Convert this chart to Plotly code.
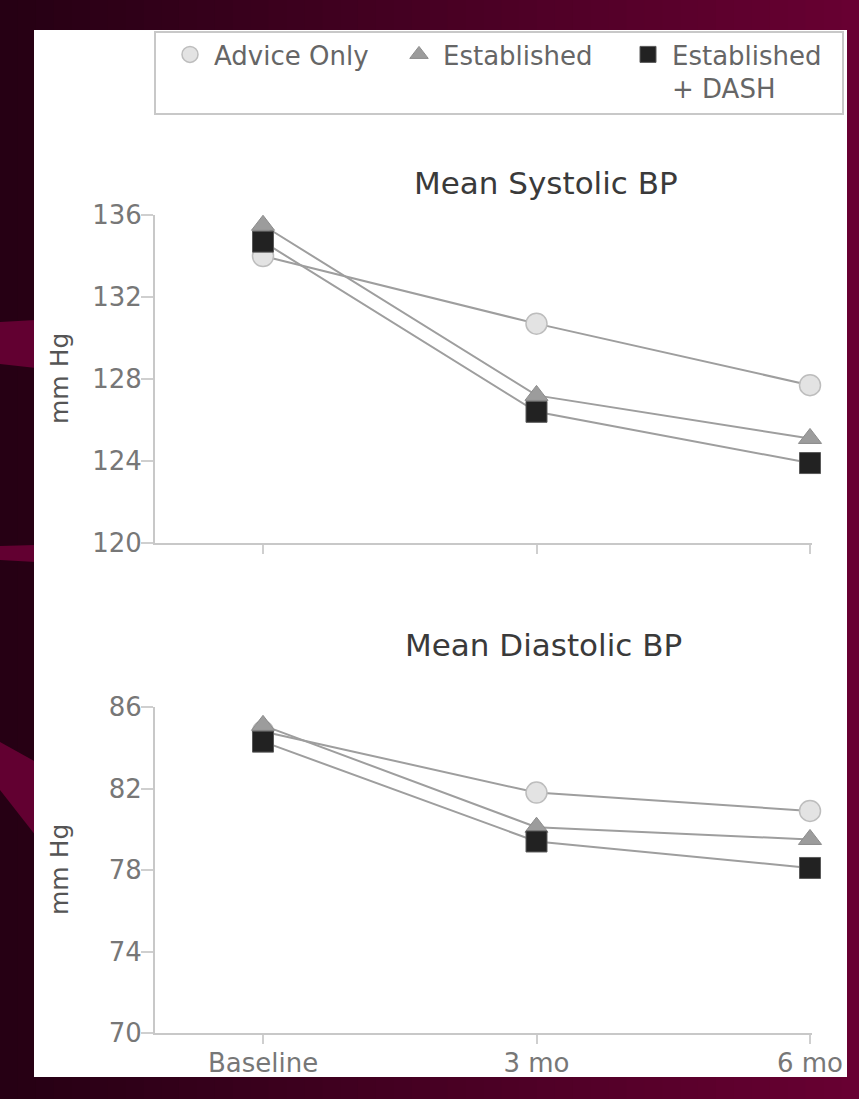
import plotly.graph_objects as go

W, H = 859, 1099

timepoints = ["Baseline", "3 mo", "6 mo"]
groups = ["Advice Only", "Established", "Established<br>+ DASH"]

systolic_advice = [134.0, 130.7, 127.7]
systolic_established = [135.5, 127.2, 125.1]
systolic_dash = [134.7, 126.4, 123.9]

diastolic_advice = [84.8, 81.8, 80.9]
diastolic_established = [85.1, 80.1, 79.5]
diastolic_dash = [84.3, 79.4, 78.1]

systolic_ticks = [120, 124, 128, 132, 136]
diastolic_ticks = [70, 74, 78, 82, 86]

styles = [
    dict(symbol="circle", size=21, color="#e3e3e3", line=dict(color="#bdbdbd", width=1.5)),
    dict(symbol="triangle-up", size=20, color="#9c9c9c", line=dict(color="#8c8c8c", width=1)),
    dict(symbol="square", size=21, color="#222222", line=dict(color="#5a5a5a", width=1)),
]

def px(x):
    return x / W

def py(y):
    return 1 - y / H

fig = go.Figure()

xs = list(range(len(timepoints)))
panels = [
    ("x", "y", [systolic_advice, systolic_established, systolic_dash]),
    ("x2", "y2", [diastolic_advice, diastolic_established, diastolic_dash]),
]
for pi, (xa, ya, series) in enumerate(panels):
    for vals in series:
        fig.add_trace(go.Scatter(x=xs, y=vals, mode="lines", xaxis=xa, yaxis=ya,
                                 line=dict(color="#9e9e9e", width=2), showlegend=False,
                                 hoverinfo="skip", cliponaxis=False))
    for gi, vals in enumerate(series):
        fig.add_trace(go.Scatter(x=xs, y=vals, mode="markers", xaxis=xa, yaxis=ya,
                                 name=groups[gi], marker=styles[gi], showlegend=(pi == 0),
                                 cliponaxis=False))

# decorative maroon gradient background (slide template)
shapes = []
n = 48
c0, c1 = (38, 0, 20), (104, 0, 50)
for i in range(n):
    t = i / (n - 1)
    col = "rgb(%d,%d,%d)" % tuple(int(c0[k] + (c1[k] - c0[k]) * t) for k in range(3))
    shapes.append(dict(type="rect", xref="paper", yref="paper", x0=i / n, x1=(i + 1) / n + 0.002,
                       y0=0, y1=1, fillcolor=col, line=dict(width=0), layer="below"))
for (ya, yb, yc, yd) in [(322, 364, 368, 320), (546, 560, 562, 545), (742, 790, 836, 762)]:
    path = "M 0 %f L %f %f L %f %f L 0 %f Z" % (py(ya), px(36), py(yd), px(36), py(yc), py(yb))
    shapes.append(dict(type="path", xref="paper", yref="paper", path=path,
                       fillcolor="#620031", line=dict(width=0), layer="below"))
shapes.append(dict(type="rect", xref="paper", yref="paper", x0=px(34), x1=px(847),
                   y0=py(1077), y1=py(30), fillcolor="white", line=dict(width=0), layer="below"))
shapes.append(dict(type="rect", xref="paper", yref="paper", x0=px(155), x1=px(843),
                   y0=py(114), y1=py(32), fillcolor="rgba(0,0,0,0)",
                   line=dict(color="#c8c8c8", width=2), layer="below"))

xdom = [px(155), px(812)]
xrange = [(155 - 263) / 273.5, (812 - 263) / 273.5]
font_family = "DejaVu Sans, Liberation Sans, Arial, sans-serif"
axis_common = dict(showgrid=False, zeroline=False, showline=True, linecolor="#c8c8c8", linewidth=2,
                   ticks="outside", tickcolor="#cfcfcf", tickwidth=1.5,
                   tickfont=dict(size=26, color="#777777", family=font_family))

fig.update_layout(
    width=W, height=H, margin=dict(l=0, r=0, t=0, b=0, autoexpand=False),
    paper_bgcolor="#4a0028", plot_bgcolor="rgba(0,0,0,0)",
    shapes=shapes,
    xaxis=dict(domain=xdom, range=xrange, anchor="y", tickvals=xs, ticktext=timepoints,
               showticklabels=False, ticklen=9, **axis_common),
    yaxis=dict(domain=[py(543), py(215)], range=[120, 136], anchor="x", tickvals=systolic_ticks,
               ticklen=12, ticklabelstandoff=-6, **axis_common),
    xaxis2=dict(domain=xdom, range=xrange, anchor="y2", tickvals=xs, ticktext=timepoints,
                ticklen=9, ticklabelstandoff=-3, **axis_common),
    yaxis2=dict(domain=[py(1033), py(707)], range=[70, 86], anchor="x2", tickvals=diastolic_ticks,
                ticklen=12, ticklabelstandoff=-6, **axis_common),
    legend=dict(orientation="h", x=px(166), y=py(31), xanchor="left", yanchor="top",
                bgcolor="rgba(0,0,0,0)", borderwidth=0, valign="top",
                font=dict(size=26, color="#666666", family=font_family),
                itemwidth=38, entrywidth=176, itemclick=False),
    annotations=[
        dict(text="Mean Systolic BP", x=px(546), y=py(183), xref="paper", yref="paper",
             xanchor="center", yanchor="middle",
             showarrow=False, font=dict(size=31, color="#3a3a3a", family=font_family)),
        dict(text="Mean Diastolic BP", x=px(543), y=py(645), xref="paper", yref="paper",
             xanchor="center", yanchor="middle",
             showarrow=False, font=dict(size=31, color="#3a3a3a", family=font_family)),
        dict(text="mm Hg", x=px(59), y=py(379), xref="paper", yref="paper", textangle=-90,
             xanchor="center", yanchor="middle",
             showarrow=False, font=dict(size=25, color="#555555", family=font_family)),
        dict(text="mm Hg", x=px(59), y=py(870), xref="paper", yref="paper", textangle=-90,
             xanchor="center", yanchor="middle",
             showarrow=False, font=dict(size=25, color="#555555", family=font_family)),
    ],
)

fig.write_html("out.html")
